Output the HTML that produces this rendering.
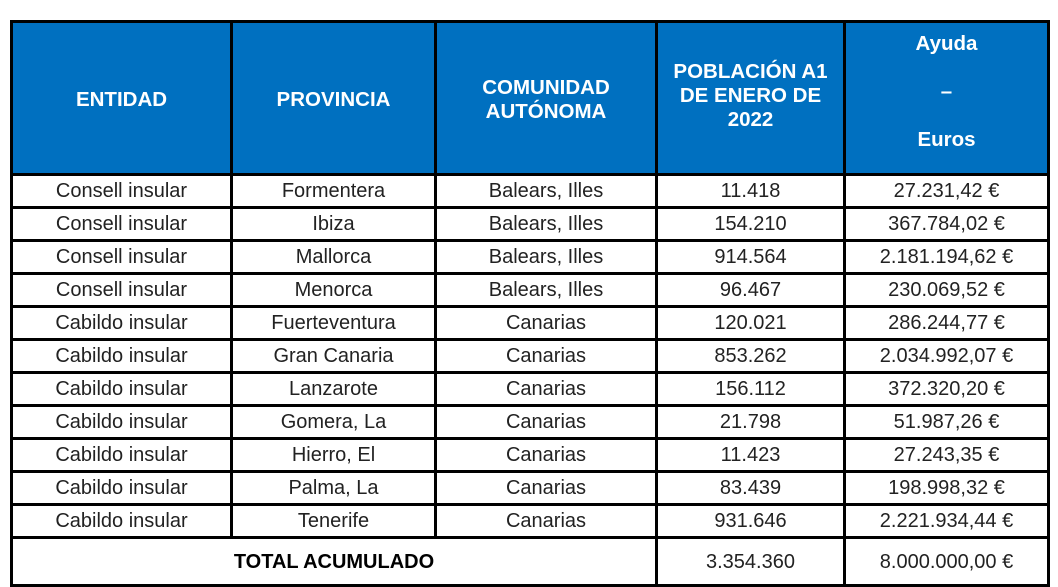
<!DOCTYPE html>
<html><head><meta charset="utf-8"><style>
body{margin:0;background:#fff;width:1058px;height:587px;overflow:hidden;font-family:"Liberation Sans",sans-serif;}
table{position:absolute;left:10px;top:20px;border-collapse:collapse;table-layout:fixed;width:1037px;}
td,th{border:3px solid #000;padding:0;text-align:center;font-size:20px;color:#222;line-height:20px;}
th{background:#0070C0;color:#fff;font-weight:bold;font-size:20.5px;height:138px;line-height:24px;}
tr.r td{height:30px;}
tr.t td{height:45px;}
</style></head><body>
<table>
<colgroup><col style="width:220px"><col style="width:204px"><col style="width:221px"><col style="width:188px"><col style="width:204px"></colgroup>
<tr>
<th style="padding-top:4px">ENTIDAD</th>
<th style="padding-top:4px">PROVINCIA</th>
<th style="padding-top:4px">COMUNIDAD<br>AUTÓNOMA</th>
<th style="padding-bottom:4px">POBLACIÓN A1<br>DE ENERO DE<br>2022</th>
<th style="padding-bottom:12px">Ayuda<br><br>–<br><br>Euros</th>
</tr>
<tr class="r"><td>Consell insular</td><td>Formentera</td><td>Balears, Illes</td><td>11.418</td><td>27.231,42 €</td></tr>
<tr class="r"><td>Consell insular</td><td>Ibiza</td><td>Balears, Illes</td><td>154.210</td><td>367.784,02 €</td></tr>
<tr class="r"><td>Consell insular</td><td>Mallorca</td><td>Balears, Illes</td><td>914.564</td><td>2.181.194,62 €</td></tr>
<tr class="r"><td>Consell insular</td><td>Menorca</td><td>Balears, Illes</td><td>96.467</td><td>230.069,52 €</td></tr>
<tr class="r"><td>Cabildo insular</td><td>Fuerteventura</td><td>Canarias</td><td>120.021</td><td>286.244,77 €</td></tr>
<tr class="r"><td>Cabildo insular</td><td>Gran Canaria</td><td>Canarias</td><td>853.262</td><td>2.034.992,07 €</td></tr>
<tr class="r"><td>Cabildo insular</td><td>Lanzarote</td><td>Canarias</td><td>156.112</td><td>372.320,20 €</td></tr>
<tr class="r"><td>Cabildo insular</td><td>Gomera, La</td><td>Canarias</td><td>21.798</td><td>51.987,26 €</td></tr>
<tr class="r"><td>Cabildo insular</td><td>Hierro, El</td><td>Canarias</td><td>11.423</td><td>27.243,35 €</td></tr>
<tr class="r"><td>Cabildo insular</td><td>Palma, La</td><td>Canarias</td><td>83.439</td><td>198.998,32 €</td></tr>
<tr class="r"><td>Cabildo insular</td><td>Tenerife</td><td>Canarias</td><td>931.646</td><td>2.221.934,44 €</td></tr>
<tr class="t"><td colspan="3" style="font-weight:bold;color:#000">TOTAL ACUMULADO</td><td>3.354.360</td><td>8.000.000,00 €</td></tr>
</table>
</body></html>
